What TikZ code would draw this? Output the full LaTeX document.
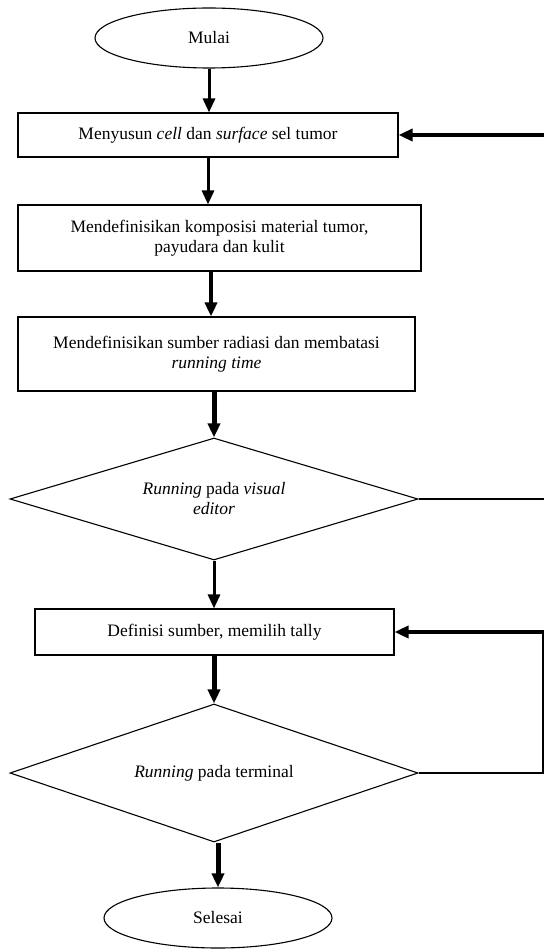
\documentclass[tikz,border=0pt]{standalone}
\usepackage{fontspec}
\setmainfont{Liberation Serif}
\usetikzlibrary{shapes.geometric,arrows.meta}
\begin{document}
\begin{tikzpicture}[x=1pt,y=-1pt,
  base/.style={draw=black, line width=1.1pt, font=\fontsize{17.5}{20}\selectfont, align=center, inner sep=0pt},
  term/.style={base, ellipse, minimum width=228pt, minimum height=60pt},
  proc/.style={base, rectangle},
  dec/.style={base, diamond},
  arr/.style={-{Triangle[length=14pt,width=12pt]}, line width=#1},
  arr/.default=3pt,
  ln/.style={line width=1.2pt}]
\useasboundingbox (0,0) rectangle (544,949);
\node[term] (start) at (209,38) {Mulai};
\node[proc, minimum width=380pt, minimum height=44pt] (b1) at (208,135) {Menyusun \textit{cell} dan \textit{surface} sel tumor};
\node[proc, minimum width=403pt, minimum height=66pt] (b2) at (219.5,238) {Mendefinisikan komposisi material tumor,\\ payudara dan kulit};
\node[proc, minimum width=397pt, minimum height=74pt] (b3) at (216.5,354) {Mendefinisikan sumber radiasi dan membatasi\\ \textit{running time}};
\node[dec, aspect=3.34, minimum width=408pt, minimum height=122pt] (d1) at (214,499) {\textit{Running} pada \textit{visual}\\ \textit{editor}};
\node[proc, minimum width=359pt, minimum height=46pt] (b4) at (214.5,632) {Definisi sumber, memilih tally};
\node[dec, aspect=2.96, minimum width=408pt, minimum height=138pt] (d2) at (214,773) {\textit{Running} pada terminal};
\node[term] (end) at (218,918) {Selesai};
\coordinate (xb) at (211,0);
\coordinate (edge) at (544,0);
\coordinate (cr) at (543,0);
\draw[arr=3pt] (start.south) -- (start.south |- b1.north);
\draw[arr=3pt] (b1.south) -- (b1.south |- b2.north);
\draw[arr=4pt] (b2.south -| xb) -- (b3.north -| xb);
\draw[arr=5pt] (b3.south -| d1.north) -- (d1.north);
\draw[arr=3pt] (d1.south) -- (d1.south |- b4.north);
\draw[arr=5pt] (b4.south -| d2.north) -- (d2.north);
\draw[arr=5pt] (d2.south -| end.north) -- (end.north);
\draw[arr=4.5pt] (b1.east -| edge) -- (b1.east);
\draw[ln] (d1.east) -- (d1.east -| edge);
\draw[ln] (d2.east) -- (d2.east -| cr) -- (b4.east -| cr);
\draw[arr=4.5pt] ([xshift=0.6pt]b4.east -| cr) -- (b4.east);
\end{tikzpicture}
\end{document}
